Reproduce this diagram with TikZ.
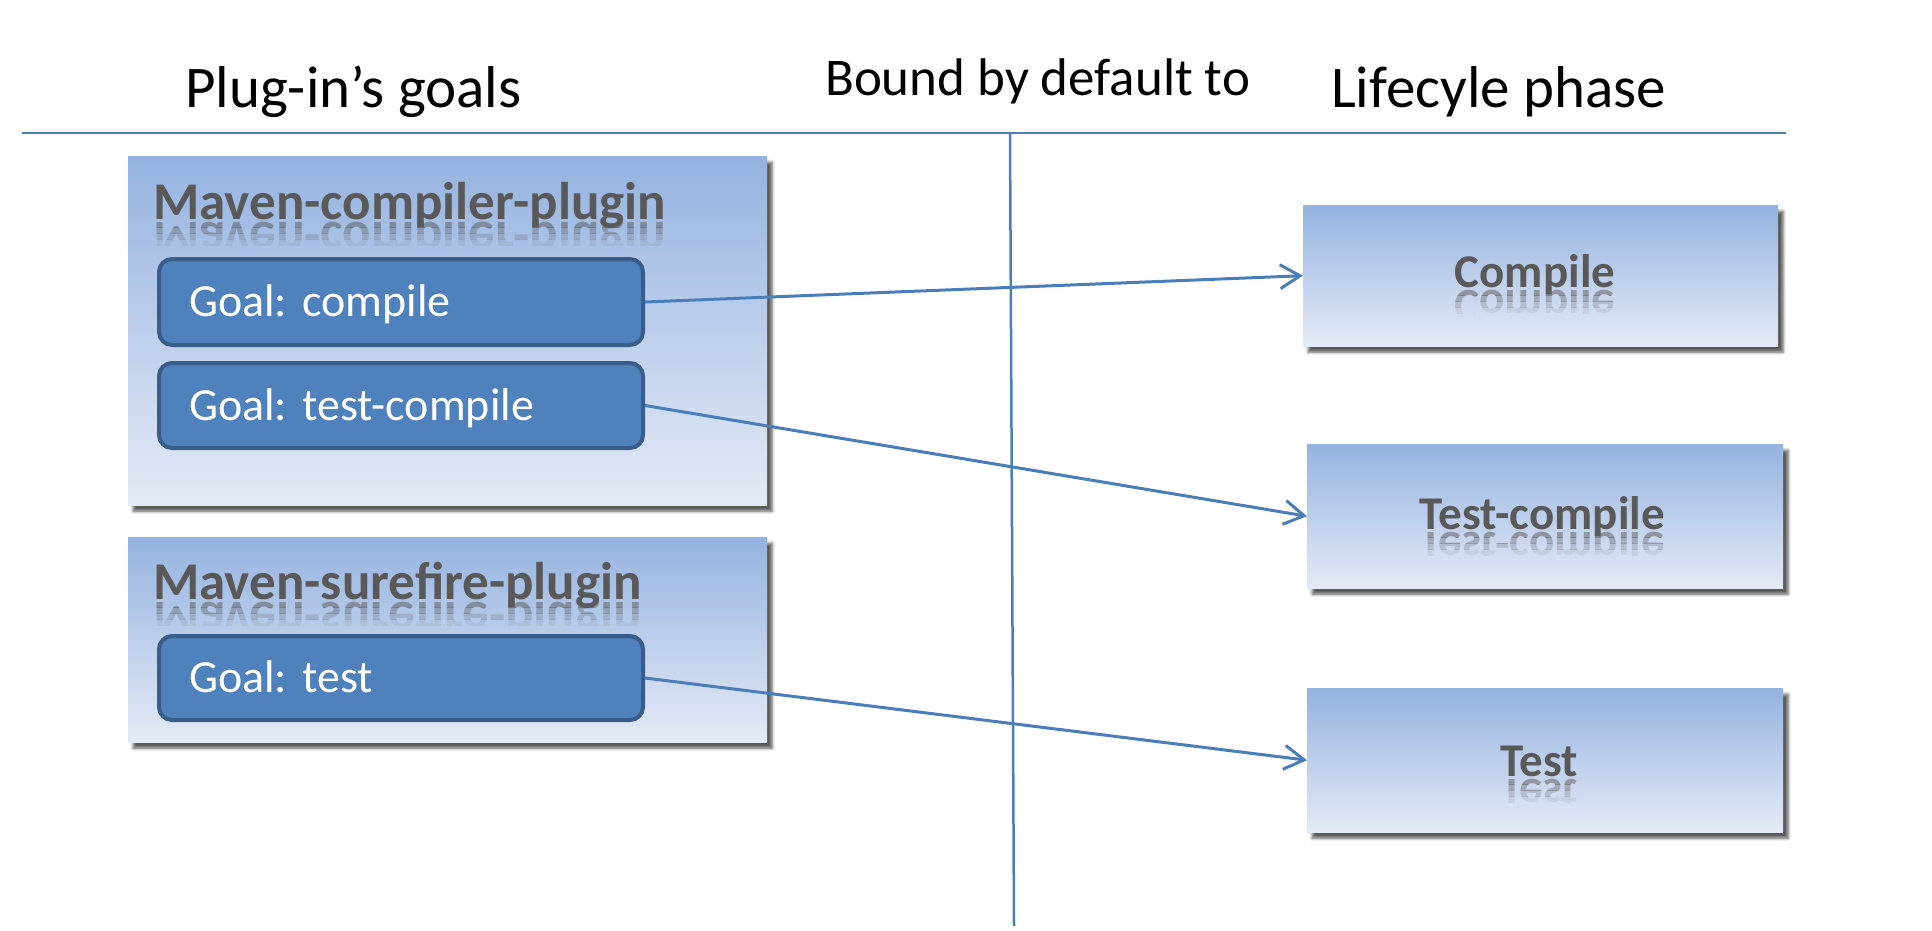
\documentclass[tikz,border=0pt]{standalone}
\usepackage{fontspec}
\setmainfont{Carlito}
\usetikzlibrary{arrows.meta,shadows.blur}
\definecolor{lineblue}{RGB}{74,126,187}
\definecolor{goalfill}{RGB}{79,129,189}
\definecolor{goaldraw}{RGB}{56,93,138}
\definecolor{boxtop}{RGB}{149,179,224}
\definecolor{boxbot}{RGB}{228,234,246}
\definecolor{titlegray}{RGB}{89,89,89}
\newcommand{\mirrortext}[5]{%
  \foreach \k/\o in {0/0.5,1/0.36,2/0.22,3/0.1}{%
    \begin{scope}
      \clip ({#1-600},{#2+2+\k*6}) rectangle ({#1+700},{#2+2+\k*6+6});
      \node[#4, anchor=#3, text opacity=\o] at (#1,{#2+3}) {\scalebox{1}[-1]{#5}};
    \end{scope}}}
\begin{document}
\begin{tikzpicture}[x=1pt,y=-1pt,
  panel/.style={rectangle, anchor=north west, inner sep=0pt, draw=none,
    top color=boxtop, bottom color=boxbot,
    blur shadow={shadow xshift=5pt, shadow yshift=-6pt, shadow blur radius=3pt, shadow opacity=65}},
  goalbox/.style={rectangle, rounded corners=13pt, anchor=north west, fill=goalfill,
    draw=goaldraw, line width=4pt, inner xsep=30pt, inner ysep=0pt, minimum width=484pt,
    text width=424pt, align=left, text=white, font=\frenchspacing\fontsize{46}{50}\selectfont,
    text height=29pt, text depth=0pt},
  header/.style={anchor=base west, inner sep=0pt, text=black},
  titletext/.style={inner sep=0pt, text=titlegray, font=\bfseries\fontsize{53}{58}\selectfont},
  phasetext/.style={inner sep=0pt, text=titlegray, font=\bfseries\fontsize{47}{52}\selectfont},
  rule/.style={draw=lineblue, line width=2.5pt},
  conn/.style={draw=lineblue, line width=3pt, -{Straight Barb[length=20pt,width=24pt,line width=3pt]}}
]
\useasboundingbox (0,0) rectangle (1932,930);

% headers
\node[header, font=\fontsize{59}{64}\selectfont] (hgoals) at (185,107) {Plug-in’s goals};
\node[header, font=\fontsize{53}{58}\selectfont] (hbound) at (825,95) {Bound by default to};
\node[header, font=\fontsize{59}{64}\selectfont] (hphase) at (1331,107) {Lifecyle phase};

% rules
\coordinate (hl) at (22,133);
\coordinate (hr) at (1786,133);
\coordinate (vtop) at (1010,134);
\coordinate (vbot) at (1014,926);
\draw[rule] (hl) -- (hr);
\draw[rule] (vtop) -- (vbot);

% plugin panels
\node[panel, minimum width=639pt, minimum height=349pt] (p1) at (128,156) {};
\node[panel, minimum width=639pt, minimum height=205pt] (p2) at (128,537) {};

\node[titletext, anchor=base west] (t1) at (153,219) {Maven-compiler-plugin};
\mirrortext{153}{219}{base west}{titletext}{Maven-compiler-plugin}
\node[titletext, anchor=base west] (t2) at (153,599) {Maven-surefire-plugin};
\mirrortext{153}{599}{base west}{titletext}{Maven-surefire-plugin}

% goals
\node[goalbox, minimum height=86pt] (g1) at (157,257) {Goal:\ compile};
\node[goalbox, minimum height=85pt] (g2) at (157,361) {Goal:\ test-compile};
\node[goalbox, minimum height=84pt] (g3) at (157,634) {Goal:\ test};

% phases
\node[panel, minimum width=475pt, minimum height=141pt] (c1) at (1303,205) {};
\node[panel, minimum width=476pt, minimum height=144pt] (c2) at (1307,444) {};
\node[panel, minimum width=476pt, minimum height=144pt] (c3) at (1307,688) {};

\node[phasetext, anchor=base] (l1) at (1535,287) {Compile};
\mirrortext{1535}{287}{base}{phasetext}{Compile}
\node[phasetext, anchor=base] (l2) at (1542,529) {Test-compile};
\mirrortext{1542}{529}{base}{phasetext}{Test-compile}
\node[phasetext, anchor=base] (l3) at (1539,776) {Test};
\mirrortext{1539}{776}{base}{phasetext}{Test}

% connectors
\draw[conn] (g1.east) -- (c1.west);
\draw[conn] (g2.east) -- (c2.west);
\draw[conn] (g3.east) -- (c3.west);
\end{tikzpicture}
\end{document}
